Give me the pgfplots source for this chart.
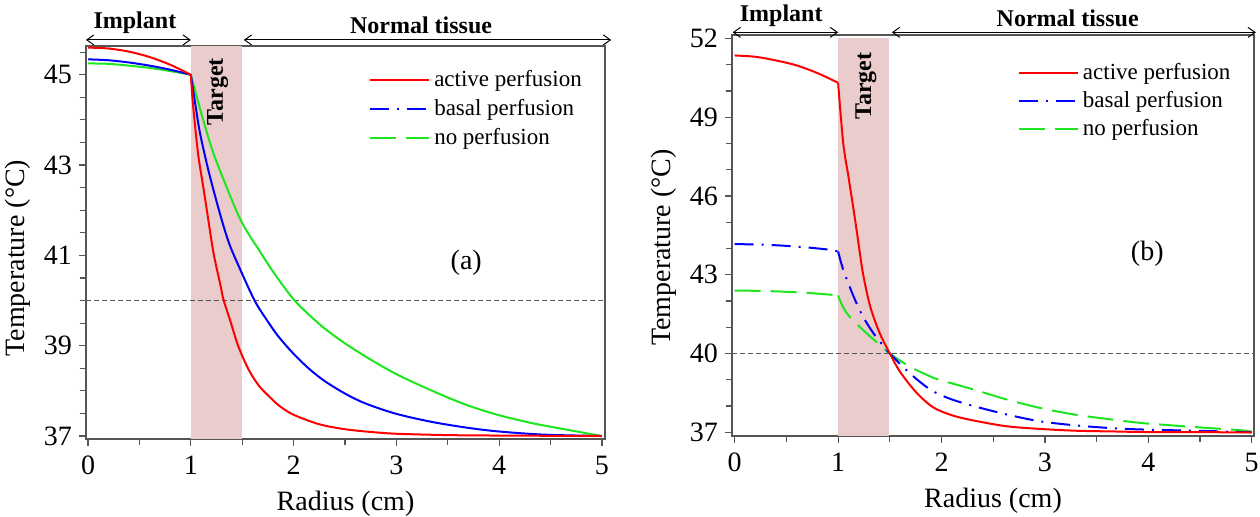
\documentclass[border=0pt]{standalone}
\usepackage{fontspec}
\setmainfont{Liberation Serif}
\usepackage{pgfplots}
\pgfplotsset{compat=1.18}
\usetikzlibrary{arrows.meta}

\definecolor{bandcol}{RGB}{234,204,204}
\definecolor{pgreen}{RGB}{30,230,30}
\definecolor{framecol}{RGB}{85,85,85}

\tikzset{
  act/.style={red, line width=1pt},
  bas/.style={blue, line width=1pt},
  nop/.style={pgreen, line width=1pt},
  basd/.style={blue, line width=1pt, dash pattern=on 9.5pt off 4pt on 1pt off 4pt},
  nopd/.style={pgreen, line width=1pt, dash pattern=on 13pt off 5pt},
  hl/.style={framecol, line width=0.75pt, dash pattern=on 2.5pt off 1.5pt},
  ann/.style={font=\rmfamily\fontsize{12}{12}\selectfont\bfseries},
  arr/.style={black, line width=0.5pt, {Straight Barb[length=3.5pt,width=5pt]}-{Straight Barb[length=3.5pt,width=5pt]}},
}

\pgfplotsset{
  panel/.style={
    scale only axis, anchor=south west, clip=false,
    axis line style={framecol, line width=0.75pt},
    tick pos=left, tick align=outside,
    every tick/.style={framecol, line width=0.6pt},
    major tick length=3.5pt, minor tick length=3pt,
    xtick={0,...,5}, minor xtick={0.5,1.5,2.5,3.5,4.5},
    /pgf/number format/assume math mode=true,
    tick label style={font=\rmfamily\fontsize{14}{14}\selectfont},
    xticklabel style={yshift=-1.5pt},
    label style={font=\rmfamily\fontsize{14}{16}\selectfont},
    xlabel style={yshift=-1pt},
    xlabel={Radius (cm)}, ylabel={Temperature (°C)},
    legend style={draw=none, fill=none, inner sep=0pt, anchor=north west,
      font=\rmfamily\fontsize{11.5}{14.2}\selectfont, legend cell align=left},
    legend image code/.code={\draw[##1] (0pt,0pt) -- (29.5pt,0pt);},
  },
  sm/.style={smooth, tension=0.5, forget plot},
}

\begin{document}
\begin{tikzpicture}
\useasboundingbox (0,0) rectangle (630pt,258.5pt);

% (a)
\begin{axis}[panel, at={(43pt,39pt)}, width=259.5pt, height=196.6pt,
  xmin=-0.02, xmax=5.03, ymin=36.934, ymax=45.64,
  ytick={37,39,41,43,45}, minor ytick={37.5,38,...,45.5},
  ylabel style={at={(ticklabel cs:0.46)}},
  legend style={at={(0.545,0.949)}, row sep=1pt}]
\addplot[fill=bandcol, draw=none, forget plot] coordinates {(1,36.934) (1.5,36.934) (1.5,45.64) (1,45.64)} -- cycle;
\addplot[hl, forget plot] coordinates {(-0.02,40) (5.03,40)};
% no perfusion
\addplot[nop, sm] coordinates {(0,45.25)(0.2,45.24)(0.4,45.2)(0.6,45.15)(0.8,45.08)(1.0,45.0)};
\addplot[nop, sm] coordinates {
(1.0,45.0)(1.04,44.66)(1.12,44.0)(1.22,43.26)(1.35,42.5)(1.47,41.85)(1.56,41.48)(1.64,41.2)
(1.80,40.64)(2.01,40.0)(2.25,39.48)(2.45,39.13)(2.70,38.76)(3.0,38.37)(3.35,38.0)(3.68,37.69)
(4.0,37.46)(4.33,37.28)(4.66,37.14)(5.0,37.0)};
% basal perfusion
\addplot[bas, sm] coordinates {(0,45.34)(0.2,45.32)(0.4,45.27)(0.6,45.2)(0.8,45.11)(1.0,45.0)};
\addplot[bas, sm] coordinates {
(1.0,45.0)(1.04,44.4)(1.09,43.7)(1.18,42.8)(1.30,41.79)(1.38,41.22)(1.48,40.69)(1.62,40.0)
(1.73,39.60)(1.85,39.21)(2.0,38.82)(2.15,38.49)(2.3,38.22)(2.5,37.94)(2.7,37.72)(3.0,37.49)
(3.35,37.31)(3.7,37.18)(4.0,37.10)(4.44,37.03)(5.0,37.0)};
% active perfusion
\addplot[act, sm] coordinates {(0,45.60)(0.2,45.58)(0.4,45.51)(0.6,45.39)(0.8,45.22)(1.0,45.00)};
\addplot[act, sm] coordinates {
(1.0,45.00)(1.02,44.37)(1.07,43.26)(1.12,42.53)(1.17,41.79)(1.22,41.06)(1.29,40.32)(1.32,40.0)
(1.38,39.58)(1.46,39.0)(1.56,38.48)(1.66,38.12)(1.76,37.88)(1.86,37.67)(2.0,37.47)(2.25,37.26)
(2.5,37.15)(2.75,37.09)(3.0,37.05)(3.5,37.02)(4.0,37.01)(5.0,37.0)};
\addlegendimage{act}\addlegendentry{active perfusion}
\addlegendimage{basd}\addlegendentry{basal perfusion}
\addlegendimage{nopd}\addlegendentry{no perfusion}
\node[ann, rotate=90] at (axis cs:1.26,44.62) {Target};
\draw[arr] (axis cs:-0.02,45.77) -- (axis cs:1.0,45.77);
\draw[arr] (axis cs:1.515,45.77) -- (axis cs:5.09,45.77);
\node[ann] at (axis cs:0.456,46.14) {Implant};
\node[ann] at (axis cs:3.24,46.1) {Normal tissue};
\node[font=\rmfamily\fontsize{14}{14}\selectfont] at (axis cs:3.68,40.84) {(a)};
\end{axis}

% (b)
\begin{axis}[panel, at={(366pt,40.5pt)}, width=261pt, height=200.5pt,
  xmin=-0.026, xmax=5.022, ymin=36.86, ymax=52.13,
  ytick={37,40,...,52}, minor ytick={38,39,...,51},
  ylabel style={at={(ticklabel cs:0.47)}},
  legend style={at={(0.547,0.94)}, row sep=0.4pt}]
\addplot[fill=bandcol, draw=none, forget plot] coordinates {(1,36.86) (1.49,36.86) (1.49,52) (1,52)} -- cycle;
\addplot[hl, forget plot] coordinates {(-0.026,40) (5.022,40)};
% no perfusion
\addplot[nopd, sm] coordinates {(0,42.40)(0.3,42.38)(0.5,42.35)(0.7,42.31)(0.9,42.25)(1.0,42.21)};
\addplot[nopd, sm] coordinates {
(1.0,42.21)(1.05,41.75)(1.11,41.41)(1.24,40.9)(1.40,40.34)(1.50,40.0)(1.69,39.51)(1.89,39.13)
(1.98,39.0)(2.31,38.63)(2.63,38.25)(2.95,37.93)(3.28,37.68)(3.6,37.51)(3.92,37.36)(4.24,37.26)
(4.56,37.17)(4.89,37.08)(5.0,37.03)};
% basal perfusion
\addplot[basd, sm] coordinates {(0,44.17)(0.3,44.14)(0.5,44.1)(0.7,44.04)(0.9,43.96)(1.0,43.89)};
\addplot[basd, sm] coordinates {
(1.0,43.89)(1.05,43.19)(1.15,42.17)(1.24,41.41)(1.34,40.78)(1.42,40.38)(1.50,40.0)(1.69,39.26)
(1.89,38.63)(2.08,38.28)(2.31,38.0)(2.63,37.68)(2.95,37.42)(3.28,37.27)(3.6,37.17)(3.92,37.11)
(4.56,37.05)(5.0,37.0)};
% active perfusion
\addplot[act, sm] coordinates {(0,51.35)(0.2,51.3)(0.4,51.16)(0.6,50.97)(0.8,50.68)(1.0,50.31)};
\addplot[act, sm] coordinates {
(1.0,50.31)(1.05,48.0)(1.10,46.74)(1.15,45.47)(1.19,44.4)(1.24,43.06)(1.31,41.8)(1.40,40.8)
(1.50,40.0)(1.60,39.3)(1.76,38.5)(1.92,37.95)(2.1,37.65)(2.31,37.45)(2.63,37.23)(2.95,37.13)
(3.3,37.06)(3.7,37.03)(4.0,37.01)(5.0,37.0)};
\addlegendimage{act}\addlegendentry{active perfusion}
\addlegendimage{basd}\addlegendentry{basal perfusion}
\addlegendimage{nopd}\addlegendentry{no perfusion}
\node[ann, rotate=90] at (axis cs:1.27,50.19) {Target};
\draw[arr] (axis cs:-0.02,52.23) -- (axis cs:1.0,52.23);
\draw[arr] (axis cs:1.52,52.23) -- (axis cs:5.04,52.23);
\node[ann] at (axis cs:0.45,52.85) {Implant};
\node[ann] at (axis cs:3.22,52.77) {Normal tissue};
\node[font=\rmfamily\fontsize{14}{14}\selectfont] at (axis cs:3.99,43.8) {(b)};
\end{axis}
\end{tikzpicture}
\end{document}
